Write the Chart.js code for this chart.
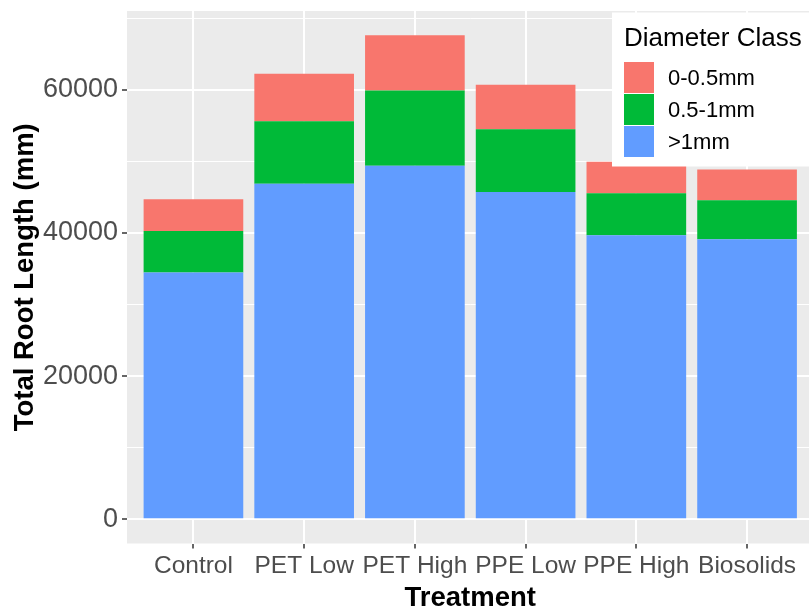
<!DOCTYPE html>
<html>
<head>
<meta charset="utf-8">
<script src="https://cdn.jsdelivr.net/npm/chart.js@4.4.1/dist/chart.umd.min.js"></script>
<style>
html,body{margin:0;padding:0;background:#fff;overflow:hidden;}
#wrap{width:809px;height:610px;overflow:hidden;position:relative;}
canvas{display:block;}
</style>
</head>
<body>
<div id="wrap"><canvas id="c" width="815" height="610"></canvas></div>
<script>
// ---- data ----
const categories = ["Control", "PET Low", "PET High", "PPE Low", "PPE High", "Biosolids"];
const seriesNames = ["0-0.5mm", "0.5-1mm", ">1mm"];
const fine   = [4420, 6620, 7710, 6230, 4420, 4290];   // 0-0.5mm (top)
const medium = [5800, 8730, 10510, 8750, 5860, 5440];  // 0.5-1mm (middle)
const coarse = [34460, 46870, 49380, 45700, 39660, 39100]; // >1mm (bottom)
const yTickLabels = [0, 20000, 40000, 60000];
const yGridValues = [0, 10000, 20000, 30000, 40000, 50000, 60000, 70000];
const colors = { "0-0.5mm": "#F8766D", "0.5-1mm": "#00BA38", ">1mm": "#619CFF" };

const FONT = "'Liberation Sans', Arial, sans-serif";

function toPoints(arr){ return arr.map((v,i)=>({x:i+1, y:v})); }

const panelBg = {
  id: 'panelBg',
  beforeDraw(chart){
    const a = chart.chartArea, ctx = chart.ctx;
    ctx.save();
    ctx.fillStyle = '#EBEBEB';
    ctx.fillRect(a.left, a.top, a.right - a.left, a.bottom - a.top);
    ctx.restore();
  }
};

const ggLegend = {
  id: 'ggLegend',
  afterDraw(chart){
    const ctx = chart.ctx;
    const x0 = 612, y0 = 12.5, w = 210, h = 154;
    ctx.save();
    ctx.fillStyle = '#FFFFFF';
    ctx.fillRect(x0, y0, w, h);
    ctx.fillStyle = '#000';
    ctx.font = "26px " + FONT;
    ctx.textBaseline = 'alphabetic';
    ctx.textAlign = 'left';
    ctx.fillText('Diameter Class', 624, 46);
    const ds = chart.data.datasets.slice().reverse();
    ds.forEach((d, i) => {
      const ky = 62 + i * 32;
      ctx.fillStyle = d.backgroundColor;
      ctx.fillRect(624, ky, 30, 31);
      ctx.fillStyle = '#000';
      ctx.font = "22px " + FONT;
      ctx.textBaseline = 'middle';
      ctx.fillText(d.label, 668, ky + 17);
    });
    ctx.restore();
  }
};

new Chart(document.getElementById('c'), {
  type: 'bar',
  data: {
    datasets: [
      { label: seriesNames[2], data: toPoints(coarse), backgroundColor: colors[seriesNames[2]] },
      { label: seriesNames[1], data: toPoints(medium), backgroundColor: colors[seriesNames[1]] },
      { label: seriesNames[0], data: toPoints(fine),   backgroundColor: colors[seriesNames[0]] }
    ]
  },
  options: {
    responsive: false,
    animation: false,
    datasets: { bar: { categoryPercentage: 1, barPercentage: 0.9, borderWidth: 0 } },
    layout: { padding: { top: 11, right: 1.5, left: 0, bottom: 0 } },
    plugins: { legend: { display: false }, tooltip: { enabled: false } },
    scales: {
      x: {
        type: 'linear',
        stacked: true,
        offset: false,
        min: 0.4, max: 6.6,
        afterBuildTicks(axis){ axis.ticks = categories.map((c,i)=>({value:i+1})); },
        afterFit(axis){ axis.height = 66.5; axis.paddingLeft = 0; axis.paddingRight = 0; },
        border: { display: false },
        grid: { offset: false, color: '#FFFFFF', lineWidth: 2, tickColor: '#333333', tickWidth: 1.5, tickLength: 5 },
        ticks: {
          autoSkip: false, maxRotation: 0, minRotation: 0,
          callback: (v) => categories[v-1],
          font: { family: FONT, size: 24.5 }, color: '#4D4D4D', padding: 3
        },
        title: { display: true, text: 'Treatment', color: '#000',
                 font: { family: FONT, size: 27.5, weight: 'bold', lineHeight: 1 }, padding: { top: 7, bottom: -2 } }
      },
      y: {
        stacked: true,
        min: -3380, max: 70980,
        afterBuildTicks(axis){ axis.ticks = yGridValues.map(v=>({value:v})); },
        afterFit(axis){ axis.width = 127; axis.paddingTop = 0; axis.paddingBottom = 0; },
        border: { display: false },
        grid: {
          color: '#FFFFFF',
          lineWidth: (c) => (c.tick && yTickLabels.includes(c.tick.value)) ? 2 : 1,
          tickColor: (c) => (c.tick && yTickLabels.includes(c.tick.value)) ? '#333333' : 'rgba(0,0,0,0)',
          tickWidth: 1.5, tickLength: 5
        },
        ticks: {
          callback: (v) => yTickLabels.includes(v) ? String(v) : '',
          font: { family: FONT, size: 27 }, color: '#4D4D4D', padding: 4
        },
        title: { display: true, text: 'Total Root Length (mm)', color: '#000',
                 font: { family: FONT, size: 27.5, weight: 'bold' }, padding: { top: 9, bottom: 0 } }
      }
    }
  },
  plugins: [panelBg, ggLegend]
});
</script>
</body>
</html>
